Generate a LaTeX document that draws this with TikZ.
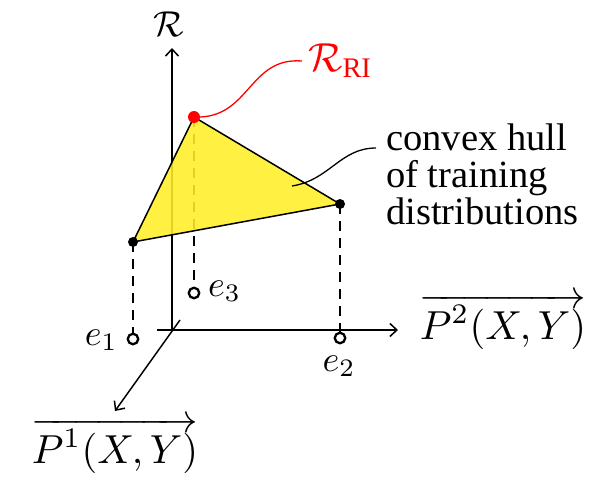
\documentclass[tikz,border=0pt]{standalone}
\usepackage{graphicx}
\usepackage{fontspec}
\setmainfont{Liberation Serif}
\usetikzlibrary{arrows.meta}
\definecolor{hullyellow}{RGB}{255,238,40}
\newcommand{\BM}[1]{\scalebox{3.6}{$#1$}}
\newcommand{\BP}[1]{\scalebox{4.05}{$#1$}}
\tikzset{
  axis/.style={line width=1.5pt, -{Straight Barb[length=7pt,width=13pt,line width=1.5pt]}},
  proj/.style={line width=1.4pt, dash pattern=on 10pt off 7pt},
  vdot/.style={circle, fill=black, inner sep=0pt, minimum size=10pt},
  rdot/.style={circle, fill=red, inner sep=0pt, minimum size=12pt},
  emark/.style={circle, draw=black, line width=2.3pt, fill=white, inner sep=0pt, minimum size=10.5pt},
  lbl/.style={inner sep=0pt},
}
\begin{document}
\begin{tikzpicture}[x=1pt,y=-1pt]
\useasboundingbox (0,0) rectangle (597,485);
% axes
\coordinate (O) at (172,330);
\coordinate (vtop) at (172,48);
\coordinate (hstart) at (157,330);
\coordinate (hend) at (398,330);
\coordinate (dstart) at (180,320);
\coordinate (dend) at (115,411);
\draw[axis] (O) -- (vtop);
\draw[axis] (hstart) -- (hend);
\draw[axis] (dstart) -- (dend);
% triangle vertices
\coordinate (A) at (194,117);
\coordinate (B) at (340,204);
\coordinate (C) at (133,242);
% projection markers
\node[emark] (e1) at (133,339) {};
\node[emark] (e2) at (340,338) {};
\node[emark] (e3) at (194,293) {};
\draw[proj] (A) -- (e3);
\draw[proj] (B) -- (e2);
\draw[proj] (C) -- (e1);
\fill[hullyellow, fill opacity=0.88] (A) -- (B) -- (C) -- cycle;
\draw[line width=1.5pt, line join=round] (A) -- (B) -- (C) -- cycle;
\node[vdot] (vB) at (B) {};
\node[vdot] (vC) at (C) {};
\node[rdot] (vA) at (A) {};
% labels
\node[lbl] (Rlab) at (169,24) {\BM{\mathcal{R}}};
\node[lbl, text=red, anchor=west] (RRI) at (308,61) {\BP{\mathcal{R}_{\mathrm{RI}}}};
\node[lbl, anchor=east] (e1l) at (118,340) {\BM{e_1}};
\node[lbl] (e2l) at (339,366) {\BM{e_2}};
\node[lbl, anchor=west] (e3l) at (208,291) {\BM{e_3}};
\node[lbl] (P2) at (503,322) {\BP{\overrightarrow{P^2(X,Y)}}};
\node[lbl] (P1) at (115,446) {\BP{\overrightarrow{P^1(X,Y)}}};
\node[lbl, anchor=north west, align=left, font=\fontsize{38.5}{37}\selectfont] (hull) at (386,124) {convex hull\\of training\\distributions};
% leader curves
\coordinate (hullin) at (292,186);
\coordinate (hullend) at (376,148);
\draw[red, line width=1.3pt] (vA.east) .. controls (250,115) and (250,57) .. ([xshift=-6pt]RRI.west);
\draw[line width=1.3pt] (hullin) .. controls (330,180) and (340,148) .. (hullend);
\end{tikzpicture}
\end{document}
